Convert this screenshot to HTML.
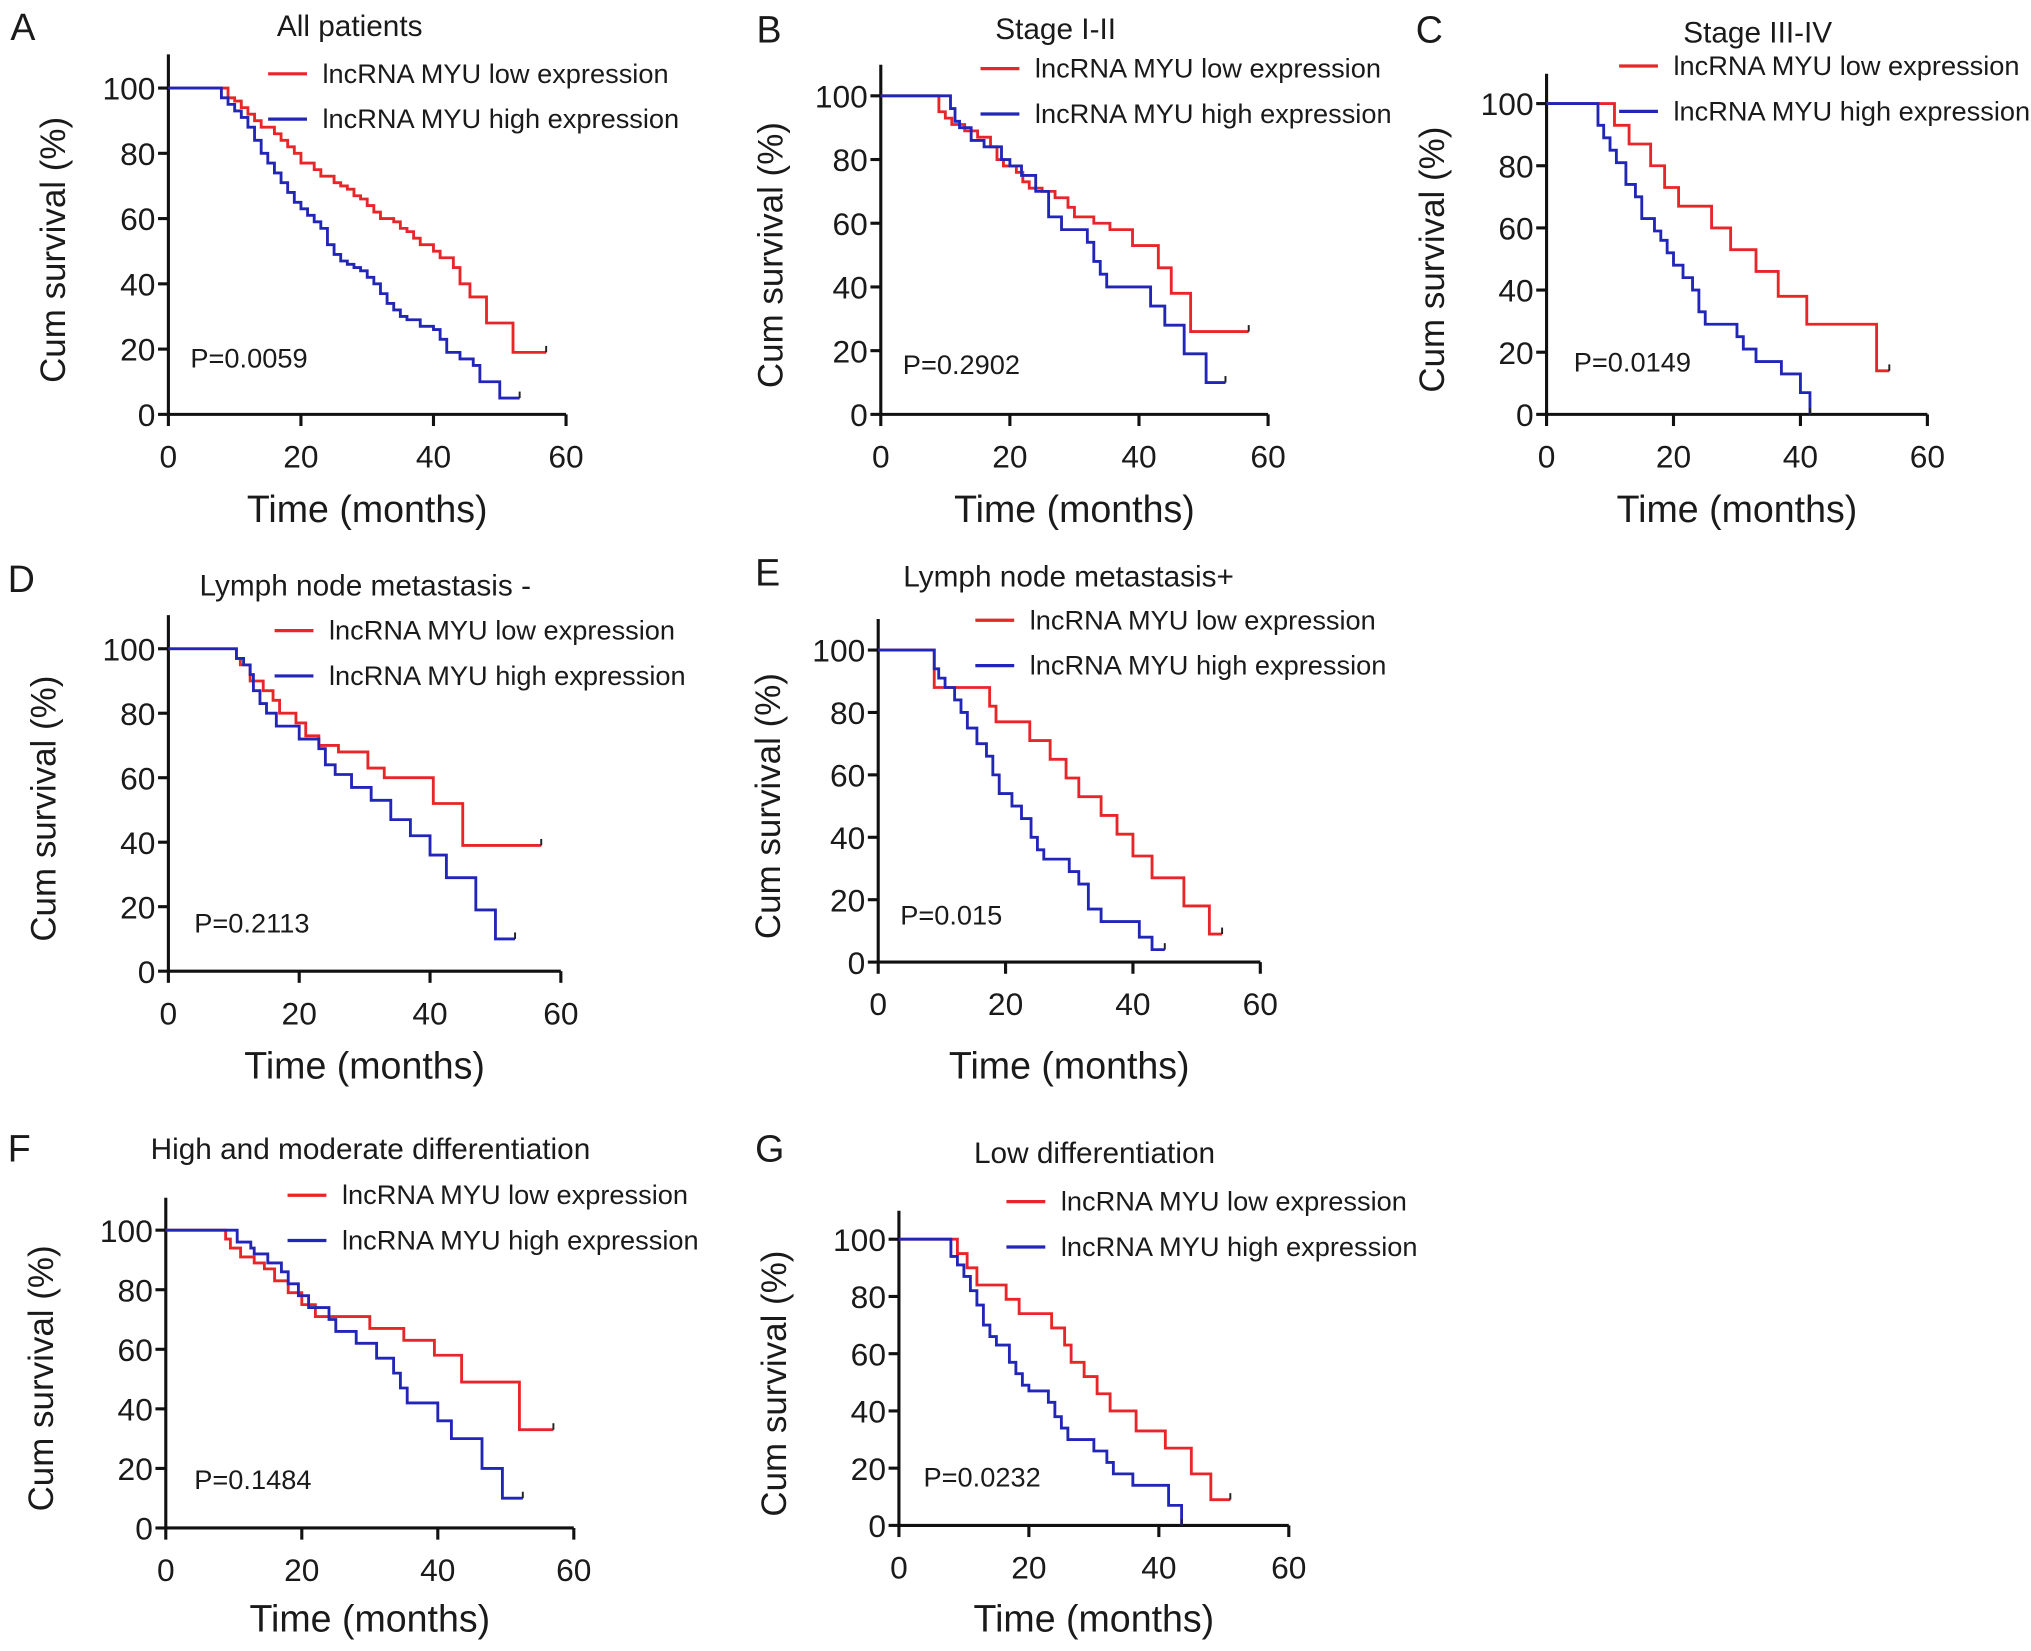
<!DOCTYPE html>
<html><head><meta charset="utf-8">
<style>
html,body{margin:0;padding:0;background:#fff;}
svg{display:block;}
text{font-family:"Liberation Sans",Arial,sans-serif;fill:#1a1a1a;}
</style></head>
<body>
<svg id="fig" width="2031" height="1651" viewBox="0 0 1568 1275" preserveAspectRatio="none" xmlns="http://www.w3.org/2000/svg"></svg>
<script>
// ---- data: drop times (months) and survival (%) after each drop, plus last follow-up ----
const aLowT = [9,10,11,12,13,14,16,17,18,19,20,22,23,25,26,27,28,29,30,31,32,34,35,36,37,38,40,41,43,44,45.5,48,52];
const aLowS = [97,96,94,92,90,88,86,84,82,80,77,75,73,71,70,69,67,66,64,62,60,59,57,56,54,52,50,48,45,40,36,28,19];
const aLowEnd = 57;
const aHighT = [8,9,10,11,12,13,14,15,16,17,18,19,20,21,22,23,24,25,26,27,28,29,30,31,32,33,34,35,36,38,40,41,42,44,46,47,50];
const aHighS = [97,95,93,91,88,84,80,77,74,71,68,65,63,61,59,57,52,49,47,46,45,44,42,40,37,34,32,30,29,27,26,23,19,17,15,10,5];
const aHighEnd = 53;

const bLowT = [9,10,11,13,15,17,18,19,21,22,23,25,27,29,30,33,35.5,39,43,45,48];
const bLowS = [95,93,91,89,87,84,80,78,76,73,71,70,68,65,62,60,58,53,46,38,26];
const bLowEnd = 57;
const bHighT = [10.8,11.5,12.2,14,16,18.7,20,21.8,24,26,28,32,33,34,35,41.8,44,47,50.4];
const bHighS = [96,92,90,86,84,80,78,75,70,62,58,54,48,44,40,34,28,19,10];
const bHighEnd = 53.4;

const cLowT = [10.7,13,16.4,18.6,20.8,26,29,33,36.5,41,52];
const cLowS = [93,87,80,73,67,60,53,46,38,29,14];
const cLowEnd = 54;
const cHighT = [8.1,9,10,11,12.5,14,15,17,18,19,20,21.5,23,24,25,30,31,33,37,40,41.5];
const cHighS = [93,89,85,81,74,70,63,59,56,52,48,44,40,33,29,25,21,17,13,7,0];
const cHighEnd = 41.5;

const dLowT = [10.4,11,12.5,14.5,16,17,19.5,21,23,26,30.5,33,40.5,45];
const dLowS = [97,95,90,87,84,80,77,73,70,68,63,60,52,39];
const dLowEnd = 57;
const dHighT = [10.4,11.5,12.5,13,14,15,16.5,20,23,24,25.5,28,31,34,37,40,42.5,47,50];
const dHighS = [97,95,92,87,83,80,76,72,69,64,61,57,53,47,42,36,29,19,10];
const dHighEnd = 53;

const eLowT = [8.8,17.5,18.5,23.8,27,29.5,31.5,35,37.5,40,43,48,52];
const eLowS = [88,82,77,71,65,59,53,47,41,34,27,18,9];
const eLowEnd = 54;
const eHighT = [8.8,9.5,10.5,12,13,14,15.5,17,18,19,21,22.5,24,25,26,30,31.5,33,35,41,43];
const eHighS = [94,91,88,84,80,75,70,66,60,54,50,46,40,36,33,29,25,17,13,8,4];
const eHighEnd = 45;

const fLowT = [8.8,9.5,11,13,14.5,16,18,20,22,30,35,39.5,43.5,52];
const fLowS = [97,94,91,89,87,83,79,75,71,67,63,58,49,33];
const fLowEnd = 57;
const fHighT = [10.5,12.5,13,15,17,18,19.5,21,24,25,28,31,33.5,34.5,35.5,40,42,46.5,49.5];
const fHighS = [96,94,92,89,86,82,78,74,70,66,62,57,52,47,42,36,30,20,10];
const fHighEnd = 52.5;

const gLowT = [9,10.5,12,16.5,18.5,23.5,25.5,26.5,28.5,30.5,32.5,36.5,41,45,48];
const gLowS = [95,90,84,79,74,69,63,57,52,46,40,33,27,18,9];
const gLowEnd = 51;
const gHighT = [8,9,10,11,12,13,14,15,17,18,19,20,23,24,25,26,30,32,33,36,41.5,43.5];
const gHighS = [94,91,87,82,77,70,66,63,57,53,49,47,43,38,34,30,26,22,18,14,7,0];
const gHighEnd = 43.5;

const xTicks = [0,20,40,60];
const yTicks = [0,20,40,60,80,100];

// ---- layout ----
const panels = [
 {id:'a',letter:'A',lx:8,ly:31,title:'All patients',tx:270,ty:28,x0:130,x1:437,y0:320,y1:68,top:42,legX:207,legY:57,yl:40,P:'P=0.0059',px:147,py:284,xly:403,low:[aLowT,aLowS,aLowEnd],high:[aHighT,aHighS,aHighEnd]},
 {id:'b',letter:'B',lx:584,ly:33,title:'Stage I-II',tx:815,ty:30,x0:680,x1:979,y0:320,y1:74,top:50,legX:757,legY:53,yl:594,P:'P=0.2902',px:697,py:289,xly:403,low:[bLowT,bLowS,bLowEnd],high:[bHighT,bHighS,bHighEnd]},
 {id:'c',letter:'C',lx:1093,ly:33,title:'Stage III-IV',tx:1357,ty:33,x0:1194,x1:1488,y0:320,y1:80,top:57,legX:1250,legY:51,yl:1105,P:'P=0.0149',px:1215,py:287,xly:403,low:[cLowT,cLowS,cLowEnd],high:[cHighT,cHighS,cHighEnd]},
 {id:'d',letter:'D',lx:6,ly:457,title:'Lymph node metastasis -',tx:282,ty:460,x0:130,x1:433,y0:750,y1:501,top:475,legX:212,legY:487,yl:33,P:'P=0.2113',px:150,py:720,xly:833,low:[dLowT,dLowS,dLowEnd],high:[dHighT,dHighS,dHighEnd]},
 {id:'e',letter:'E',lx:583,ly:452,title:'Lymph node metastasis+',tx:825,ty:453,x0:678,x1:973,y0:743,y1:502,top:478,legX:753,legY:479,yl:592,P:'P=0.015',px:695,py:714,xly:833,low:[eLowT,eLowS,eLowEnd],high:[eHighT,eHighS,eHighEnd]},
 {id:'f',letter:'F',lx:6,ly:897,title:'High and moderate differentiation',tx:286,ty:895,x0:128,x1:443,y0:1180,y1:950,top:925,legX:222,legY:923,yl:31,P:'P=0.1484',px:150,py:1150,xly:1260,low:[fLowT,fLowS,fLowEnd],high:[fHighT,fHighS,fHighEnd]},
 {id:'g',letter:'G',lx:583,ly:897,title:'Low differentiation',tx:845,ty:898,x0:694,x1:995,y0:1178,y1:957,top:935,legX:777,legY:928,yl:597,P:'P=0.0232',px:713,py:1148,xly:1260,low:[gLowT,gLowS,gLowEnd],high:[gHighT,gHighS,gHighEnd]}
];

const NS='http://www.w3.org/2000/svg';
const svg=document.getElementById('fig');
function mk(tag,attrs,parent){const e=document.createElementNS(NS,tag);for(const k in attrs)e.setAttribute(k,attrs[k]);(parent||svg).appendChild(e);return e;}

panels.forEach(p=>{
  const g=mk('g',{});
  
  
  const sx=t=>p.x0+(p.x1-p.x0)*t/60;
  const sy=v=>p.y0+(p.y1-p.y0)*v/100;

  const L=mk('text',{x:p.lx,y:p.ly,'font-size':29},g);L.textContent=p.letter;
  
  
  const T=mk('text',{x:p.tx,y:p.ty,'font-size':23,'text-anchor':'middle'},g);T.textContent=p.title;
  
  

  const ax=mk('g',{stroke:'#111','stroke-width':2.4,fill:'none'},g);
  
  
  mk('line',{x1:p.x0,y1:p.top,x2:p.x0,y2:p.y0+1},ax);
  mk('line',{x1:p.x0-1,y1:p.y0,x2:p.x1,y2:p.y0},ax);
  yTicks.forEach(v=>{
    mk('line',{x1:p.x0-8,y1:sy(v),x2:p.x0,y2:sy(v)},ax);
    const t=mk('text',{x:p.x0-10,y:sy(v)+9,'font-size':24.5,'text-anchor':'end'},g);t.textContent=v;
    
    
  });
  xTicks.forEach(v=>{
    mk('line',{x1:sx(v),y1:p.y0,x2:sx(v),y2:p.y0+9},ax);
    const t=mk('text',{x:sx(v),y:p.y0+41,'font-size':24.5,'text-anchor':'middle'},g);t.textContent=v;
    
    
  });
  const yt=mk('text',{x:0,y:0,'font-size':27,'text-anchor':'middle',transform:`translate(${p.yl+10},${(p.top+p.y0)/2+12}) rotate(-90)`},g);
  yt.textContent='Cum survival (%)';
  
  
  const xt=mk('text',{x:(p.x0+p.x1)/2,y:p.xly,'font-size':29,'text-anchor':'middle'},g);
  xt.textContent='Time (months)';
  
  

  [[p.low,'#e8262a','low'],[p.high,'#2226b8','high']].forEach(([ser,col,nm])=>{
    const [ts,ss,end]=ser;
    let d=`M${sx(0)},${sy(100)}`;let cur=100;
    ts.forEach((t,i)=>{d+=` H${sx(t)} V${sy(ss[i])}`;cur=ss[i];});
    d+=` H${sx(end)}`;
    const path=mk('path',{d:d,stroke:col,'stroke-width':2.2,fill:'none'},g);
    
    
    const c=mk('line',{x1:sx(end),y1:sy(cur)-5,x2:sx(end),y2:sy(cur),stroke:'#222','stroke-width':1.5},g);
    
    
  });

  [['lncRNA MYU low expression','#e8262a',0],['lncRNA MYU high expression','#2226b8',35]].forEach(([lab,col,dy])=>{
    const le=mk('g',{},g);
    
    
    mk('line',{x1:p.legX,y1:p.legY+dy,x2:p.legX+30,y2:p.legY+dy,stroke:col,'stroke-width':2.5},le);
    const t=mk('text',{x:p.legX+42,y:p.legY+dy+7,'font-size':21},le);t.textContent=lab;
  });

  const P=mk('text',{x:p.px,y:p.py,'font-size':21},g);P.textContent=p.P;
  
  
});
</script>
</body></html>
